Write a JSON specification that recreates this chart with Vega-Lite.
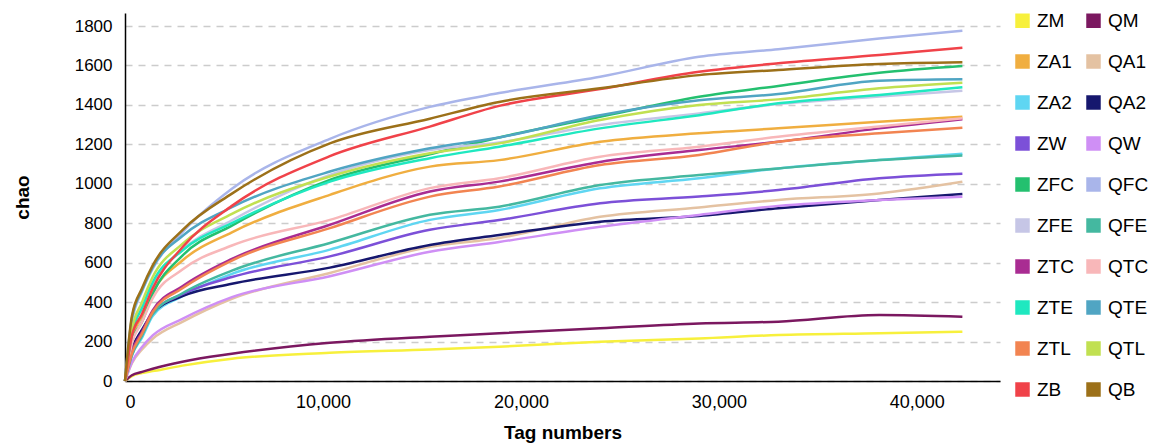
{
  "$schema": "https://vega.github.io/schema/vega-lite/v6.json",
  "autosize": "none",
  "width": 875,
  "height": 368,
  "padding": {"left": 125, "top": 13, "right": 158, "bottom": 64},
  "background": "white",
  "config": {
    "font": "Liberation Sans",
    "view": {"stroke": null}
  },
  "data": {
    "values": [
      {"x": 0, "ZM": 0, "QM": 0, "ZA1": 0, "QA1": 0, "ZA2": 0, "QA2": 0, "ZW": 0, "QW": 0, "ZFC": 0, "QFC": 0, "ZFE": 0, "QFE": 0, "ZTC": 0, "QTC": 0, "ZTE": 0, "QTE": 0, "ZTL": 0, "QTL": 0, "ZB": 0, "QB": 0},
      {"x": 350, "ZM": 25, "QM": 29, "ZA1": 210, "QA1": 90, "ZA2": 130, "QA2": 160, "ZW": 140, "QW": 95, "ZFC": 200, "QFC": 300, "ZFE": 245, "QFE": 130, "ZTC": 150, "QTC": 190, "ZTE": 240, "QTE": 320, "ZTL": 140, "QTL": 260, "ZB": 230, "QB": 330},
      {"x": 860, "ZM": 40, "QM": 46, "ZA1": 330, "QA1": 160, "ZA2": 220, "QA2": 260, "ZW": 240, "QW": 172, "ZFC": 300, "QFC": 455, "ZFE": 380, "QFE": 230, "ZTC": 250, "QTC": 300, "ZTE": 370, "QTE": 460, "ZTL": 240, "QTL": 400, "ZB": 340, "QB": 470},
      {"x": 1400, "ZM": 50, "QM": 62, "ZA1": 450, "QA1": 214, "ZA2": 330, "QA2": 345, "ZW": 345, "QW": 231, "ZFC": 440, "QFC": 570, "ZFE": 495, "QFE": 340, "ZTC": 358, "QTC": 420, "ZTE": 500, "QTE": 577, "ZTL": 350, "QTL": 527, "ZB": 470, "QB": 586},
      {"x": 2900, "ZM": 78, "QM": 98, "ZA1": 611, "QA1": 300, "ZA2": 430, "QA2": 430, "ZW": 440, "QW": 315, "ZFC": 636, "QFC": 755, "ZFE": 665, "QFE": 445, "ZTC": 480, "QTC": 565, "ZTE": 662, "QTE": 735, "ZTL": 470, "QTL": 695, "ZB": 678, "QB": 765},
      {"x": 5400, "ZM": 113, "QM": 138, "ZA1": 754, "QA1": 417, "ZA2": 543, "QA2": 493, "ZW": 527, "QW": 425, "ZFC": 788, "QFC": 975, "ZFE": 815, "QFE": 560, "ZTC": 619, "QTC": 687, "ZTE": 800, "QTE": 881, "ZTL": 611, "QTL": 847, "ZB": 888, "QB": 950},
      {"x": 10350, "ZM": 143, "QM": 194, "ZA1": 944, "QA1": 548, "ZA2": 666, "QA2": 575, "ZW": 632, "QW": 531, "ZFC": 1020, "QFC": 1228, "ZFE": 1045, "QFE": 700, "ZTC": 792, "QTC": 817, "ZTE": 1011, "QTE": 1062, "ZTL": 775, "QTL": 1037, "ZB": 1140, "QB": 1205},
      {"x": 15400, "ZM": 160, "QM": 225, "ZA1": 1087, "QA1": 680, "ZA2": 817, "QA2": 690, "ZW": 767, "QW": 655, "ZFC": 1150, "QFC": 1390, "ZFE": 1171, "QFE": 843, "ZTC": 961, "QTC": 978, "ZTE": 1130, "QTE": 1180, "ZTL": 935, "QTL": 1155, "ZB": 1290, "QB": 1330},
      {"x": 18900, "ZM": 174, "QM": 242, "ZA1": 1120, "QA1": 725, "ZA2": 867, "QA2": 740, "ZW": 816, "QW": 705, "ZFC": 1235, "QFC": 1460, "ZFE": 1210, "QFE": 884, "ZTC": 1011, "QTC": 1028, "ZTE": 1188, "QTE": 1235, "ZTL": 986, "QTL": 1205, "ZB": 1395, "QB": 1415},
      {"x": 24000, "ZM": 199, "QM": 267, "ZA1": 1213, "QA1": 833, "ZA2": 977, "QA2": 808, "ZW": 901, "QW": 782, "ZFC": 1340, "QFC": 1543, "ZFE": 1298, "QFE": 994, "ZTC": 1111, "QTC": 1137, "ZTE": 1281, "QTE": 1348, "ZTL": 1095, "QTL": 1323, "ZB": 1480, "QB": 1484},
      {"x": 29000, "ZM": 216, "QM": 292, "ZA1": 1256, "QA1": 880, "ZA2": 1028, "QA2": 837, "ZW": 935, "QW": 842, "ZFC": 1441, "QFC": 1644, "ZFE": 1357, "QFE": 1044, "ZTC": 1171, "QTC": 1188, "ZTE": 1348, "QTE": 1424, "ZTL": 1146, "QTL": 1399, "ZB": 1568, "QB": 1551},
      {"x": 33000, "ZM": 233, "QM": 301, "ZA1": 1281, "QA1": 918, "ZA2": 1078, "QA2": 876, "ZW": 968, "QW": 888, "ZFC": 1496, "QFC": 1682, "ZFE": 1404, "QFE": 1078, "ZTC": 1213, "QTC": 1238, "ZTE": 1408, "QTE": 1455, "ZTL": 1213, "QTL": 1428, "ZB": 1611, "QB": 1577},
      {"x": 38100, "ZM": 242, "QM": 335, "ZA1": 1315, "QA1": 951, "ZA2": 1120, "QA2": 918, "ZW": 1028, "QW": 918, "ZFC": 1563, "QFC": 1737, "ZFE": 1442, "QFE": 1120, "ZTC": 1281, "QTC": 1290, "ZTE": 1450, "QTE": 1523, "ZTL": 1256, "QTL": 1484, "ZB": 1653, "QB": 1607},
      {"x": 42300, "ZM": 250, "QM": 326, "ZA1": 1340, "QA1": 1010, "ZA2": 1152, "QA2": 948, "ZW": 1051, "QW": 934, "ZFC": 1597, "QFC": 1776, "ZFE": 1472, "QFE": 1144, "ZTC": 1327, "QTC": 1332, "ZTE": 1489, "QTE": 1530, "ZTL": 1284, "QTL": 1512, "ZB": 1690, "QB": 1616}
    ]
  },
  "transform": [
    {"fold": ["ZM", "QM", "ZA1", "QA1", "ZA2", "QA2", "ZW", "QW", "ZFC", "QFC", "ZFE", "QFE", "ZTC", "QTC", "ZTE", "QTE", "ZTL", "QTL", "ZB", "QB"], "as": ["sample", "chao"]}
  ],
  "mark": {"type": "line", "interpolate": "monotone", "strokeWidth": 2.5},
  "encoding": {
    "x": {
      "field": "x", "type": "quantitative",
      "scale": {"domain": [0, 44200], "nice": false},
      "axis": {
        "title": "Tag numbers", "values": [0, 10000, 20000, 30000, 40000], "format": ",d",
        "grid": false, "ticks": false, "domainColor": "black", "domainWidth": 1.5,
        "labelFontSize": 18, "labelColor": "black", "labelPadding": 12,
        "titleFontSize": 19, "titleFontWeight": "bold", "titleColor": "black", "titlePadding": 12
      }
    },
    "y": {
      "field": "chao", "type": "quantitative",
      "scale": {"domain": [0, 1866], "nice": false},
      "axis": {
        "title": "chao", "values": [0, 200, 400, 600, 800, 1000, 1200, 1400, 1600, 1800], "format": "d",
        "grid": true, "gridColor": "#cccccc", "gridDash": [7, 6], "gridWidth": 1.3,
        "ticks": false, "domainColor": "black", "domainWidth": 1.5,
        "labelFontSize": 17, "labelColor": "black", "labelPadding": 13,
        "titleFontSize": 19, "titleFontWeight": "bold", "titleColor": "black",
        "titleX": -103, "titleY": 184, "titleAngle": -90, "titleAlign": "center", "titleBaseline": "middle"
      }
    },
    "color": {
      "field": "sample", "type": "nominal",
      "scale": {
        "domain": ["ZM", "QM", "ZA1", "QA1", "ZA2", "QA2", "ZW", "QW", "ZFC", "QFC", "ZFE", "QFE", "ZTC", "QTC", "ZTE", "QTE", "ZTL", "QTL", "ZB", "QB"],
        "range": ["#f7f03c", "#7b1860", "#f0ae40", "#e4c2a2", "#5fd6f2", "#16176e", "#7c50d8", "#cf8ff5", "#24c06f", "#a9b5ea", "#c6c6e6", "#44b8a0", "#a92c92", "#f8b7b9", "#1fe8c0", "#50a5c3", "#f28451", "#c1e051", "#f04249", "#9c7019"]
      },
      "legend": {
        "orient": "none", "legendX": 888, "legendY": -2, "columns": 2, "direction": "horizontal",
        "title": null, "symbolType": "square", "symbolSize": 210, "symbolStrokeWidth": 0,
        "symbolOpacity": 1, "labelFontSize": 19, "labelColor": "black", "labelOffset": 5,
        "rowPadding": 21, "columnPadding": 10, "padding": 0,
        "encode": {
          "symbols": {"update": {"fill": {"scale": "color", "field": "value"}, "fillOpacity": {"value": 1}, "strokeWidth": {"value": 0}}}
        }
      }
    }
  }
}
